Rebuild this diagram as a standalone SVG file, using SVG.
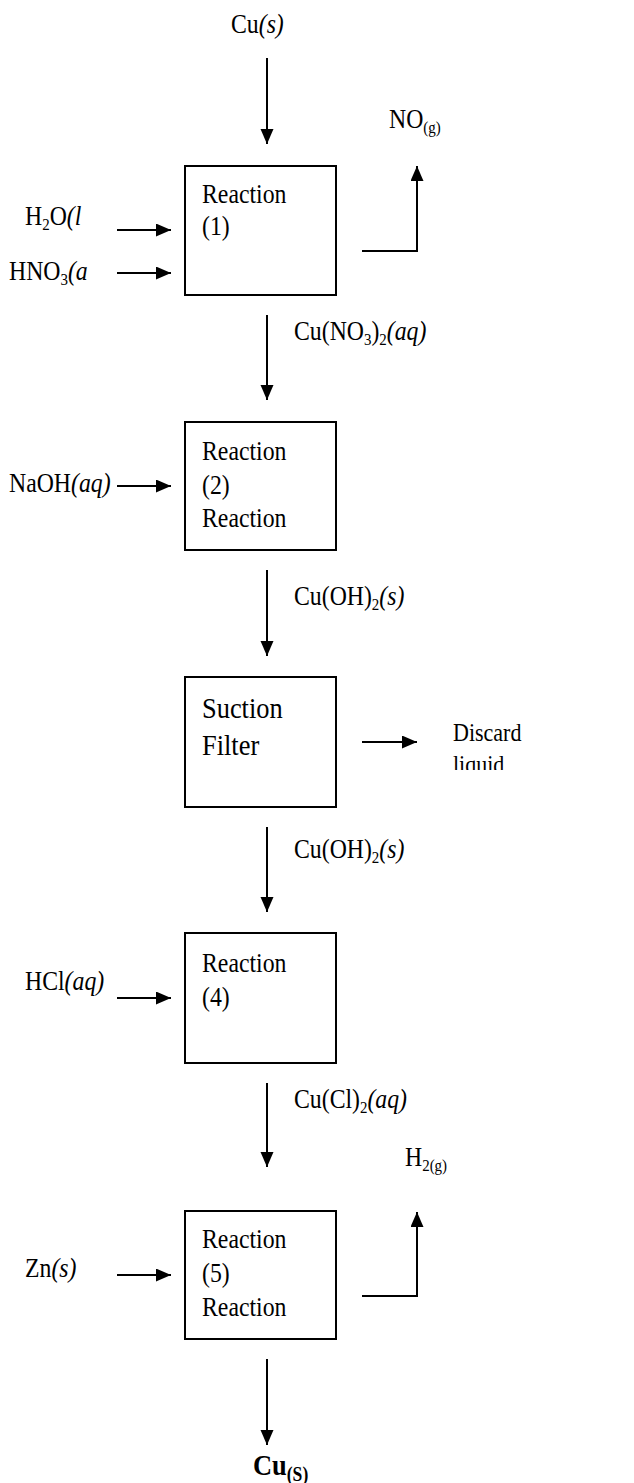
<svg xmlns="http://www.w3.org/2000/svg" width="634" height="1483" viewBox="0 0 634 1483">
<style>
text{font-family:"Liberation Serif","Times New Roman",serif;font-size:27px;fill:#000}
.big{font-size:30px}
.sub{font-size:17px}
.it{font-style:italic}
.box{fill:#fff;stroke:#000;stroke-width:2}
.ln{fill:none;stroke:#000;stroke-width:2}
</style>
<defs>
<marker id="ah" markerUnits="userSpaceOnUse" markerWidth="16" markerHeight="14" refX="15" refY="6.5" orient="auto">
<path d="M0,0 L15,6.5 L0,13 z" fill="#000"/>
</marker>
<clipPath id="clipLiquid"><rect x="440" y="740" width="194" height="30"/></clipPath>
</defs>

<g id="connectors">
<line class="ln" x1="267" y1="58" x2="267" y2="144" marker-end="url(#ah)"/>
<line class="ln" x1="117" y1="230" x2="171" y2="230" marker-end="url(#ah)"/>
<line class="ln" x1="117" y1="273" x2="171" y2="273" marker-end="url(#ah)"/>
<polyline class="ln" points="362,251 417,251 417,166" marker-end="url(#ah)"/>
<line class="ln" x1="267" y1="315" x2="267" y2="400" marker-end="url(#ah)"/>
<line class="ln" x1="117" y1="486" x2="171" y2="486" marker-end="url(#ah)"/>
<line class="ln" x1="267" y1="570" x2="267" y2="656" marker-end="url(#ah)"/>
<line class="ln" x1="362" y1="742" x2="417" y2="742" marker-end="url(#ah)"/>
<line class="ln" x1="267" y1="827" x2="267" y2="912" marker-end="url(#ah)"/>
<line class="ln" x1="117" y1="998" x2="171" y2="998" marker-end="url(#ah)"/>
<line class="ln" x1="267" y1="1083" x2="267" y2="1167" marker-end="url(#ah)"/>
<line class="ln" x1="117" y1="1275" x2="171" y2="1275" marker-end="url(#ah)"/>
<polyline class="ln" points="362,1296 417,1296 417,1212" marker-end="url(#ah)"/>
<line class="ln" x1="267" y1="1359" x2="267" y2="1445" marker-end="url(#ah)"/>
</g>

<g id="labels">
<text transform="translate(231,33) scale(0.88,1)">Cu<tspan class="it">(s)</tspan></text>
<text transform="translate(25,225) scale(0.88,1)">H<tspan class="sub" dy="5">2</tspan><tspan dy="-5">O</tspan><tspan class="it">(l</tspan></text>
<text transform="translate(9,280) scale(0.88,1)">HNO<tspan class="sub" dy="5">3</tspan><tspan class="it" dy="-5">(a</tspan></text>
<text transform="translate(389,128) scale(0.88,1)">NO<tspan class="sub" dy="5">(g)</tspan></text>
<text transform="translate(294,340) scale(0.88,1)">Cu(NO<tspan class="sub" dy="5">3</tspan><tspan dy="-5">)</tspan><tspan class="sub" dy="5">2</tspan><tspan class="it" dy="-5">(aq)</tspan></text>
<text transform="translate(9,492) scale(0.88,1)">NaOH<tspan class="it">(aq)</tspan></text>
<text transform="translate(294,605) scale(0.88,1)">Cu(OH)<tspan class="sub" dy="5">2</tspan><tspan class="it" dy="-5">(s)</tspan></text>
<text transform="translate(453,741) scale(0.88,1)" style="font-size:25px">Discard</text>
<g clip-path="url(#clipLiquid)"><text transform="translate(453,773) scale(0.88,1)" style="font-size:25px">liquid</text></g>
<text transform="translate(294,858) scale(0.88,1)">Cu(OH)<tspan class="sub" dy="5">2</tspan><tspan class="it" dy="-5">(s)</tspan></text>
<text transform="translate(25,990) scale(0.88,1)">HCl<tspan class="it">(aq)</tspan></text>
<text transform="translate(294,1108) scale(0.88,1)">Cu(Cl)<tspan class="sub" dy="5">2</tspan><tspan class="it" dy="-5">(aq)</tspan></text>
<text transform="translate(405,1166) scale(0.88,1)">H<tspan class="sub" dy="5">2(g)</tspan></text>
<text transform="translate(25,1277) scale(0.88,1)">Zn<tspan class="it">(s)</tspan></text>
<text transform="translate(253,1475) scale(0.88,1)" style="font-size:30px;font-weight:bold">Cu<tspan dy="6" style="font-size:20px">(S)</tspan></text>
</g>

<g id="reaction1">
<rect class="box" x="185" y="166" width="151" height="129"/>
<text transform="translate(202,203) scale(0.88,1)">Reaction</text>
<text transform="translate(202,235) scale(0.88,1)">(1)</text>
</g>
<g id="reaction2">
<rect class="box" x="185" y="422" width="151" height="128"/>
<text transform="translate(202,460) scale(0.88,1)">Reaction</text>
<text transform="translate(202,494) scale(0.88,1)">(2)</text>
<text transform="translate(202,527) scale(0.88,1)">Reaction</text>
</g>
<g id="suction-filter">
<rect class="box" x="185" y="677" width="151" height="130"/>
<text class="big" transform="translate(202,718) scale(0.88,1)">Suction</text>
<text class="big" transform="translate(202,755) scale(0.88,1)">Filter</text>
</g>
<g id="reaction4">
<rect class="box" x="185" y="933" width="151" height="130"/>
<text transform="translate(202,972) scale(0.88,1)">Reaction</text>
<text transform="translate(202,1006) scale(0.88,1)">(4)</text>
</g>
<g id="reaction5">
<rect class="box" x="185" y="1211" width="151" height="128"/>
<text transform="translate(202,1248) scale(0.88,1)">Reaction</text>
<text transform="translate(202,1282) scale(0.88,1)">(5)</text>
<text transform="translate(202,1316) scale(0.88,1)">Reaction</text>
</g>
</svg>
